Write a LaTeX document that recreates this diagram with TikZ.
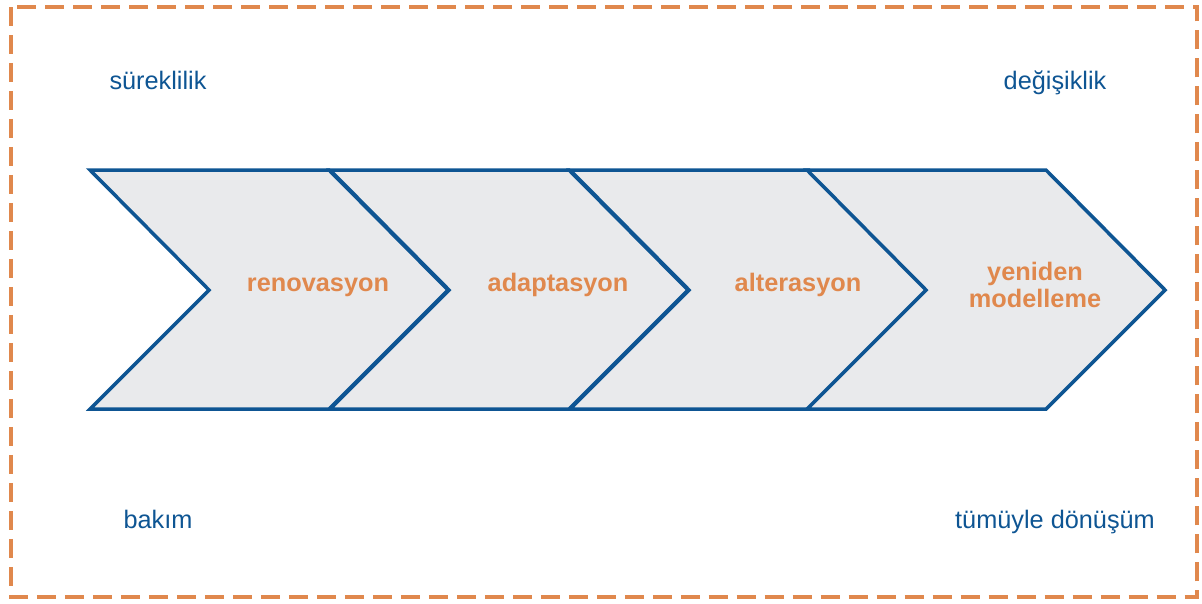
\documentclass[tikz,border=0pt]{standalone}
\usepackage{fontspec}
\setmainfont{Liberation Sans}
\usepackage{xcolor}
\usepackage{tikz}
\usetikzlibrary{positioning}

\definecolor{pblue}{HTML}{0E5593}
\definecolor{porange}{HTML}{E0884D}
\definecolor{pfill}{HTML}{E9EAEC}

\begin{document}
\begin{tikzpicture}[x=0.02cm, y=-0.02cm,
        chevron/.style={draw=pblue, fill=pfill, line width=2pt, line join=miter},
        stage/.style={text=porange, font=\fontsize{14.4}{15}\selectfont\bfseries, align=center},
        pole/.style={text=pblue, font=\fontsize{14.4}{15}\selectfont,
            text height=0.75em, text depth=0.25em}]
            \useasboundingbox (0, 0) rectangle (1202, 603);

            % frame
            \draw[porange, line width=2.2pt, dash pattern=on 0.38cm off 0.18cm]
                (11, 7) rectangle (1197, 597);

            % chevrons
            \foreach \x/\name/\txt/\y in {90/renov/renovasyon/286, 330/adapt/adaptasyon/286,
                    570/alter/alterasyon/286, 807/model/{yeniden\\modelleme}/285} {
                \draw[chevron] (\x, 170) -- ++(239, 0) -- ++(119, 120)
                    -- ++(-119, 119) -- ++(-239, 0) -- ++(119, -119) -- cycle;
                \node[stage] (\name) at (\x + 228, \y) {\strut\txt};
            }

            % poles
            \node[pole] (cont) at (158, 85) {süreklilik};
            \node[pole] (change) at (1055, 85) {değişiklik};
            \node[pole] (maint) at (158, 524) {bakım};
            \node[pole] (trans) at (1055, 524) {tümüyle dönüşüm};
        \end{tikzpicture}
\end{document}
